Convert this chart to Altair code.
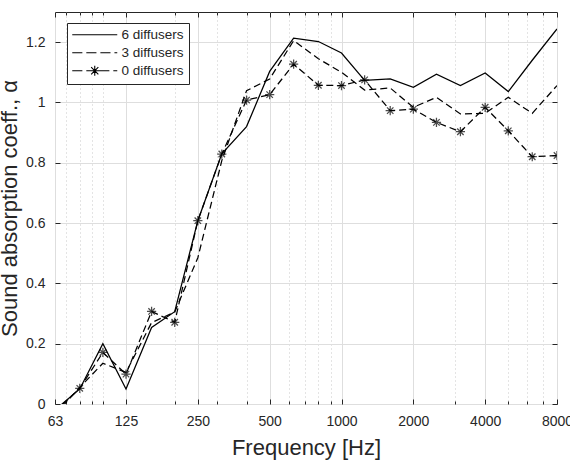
import altair as alt
import pandas as pd

freqs = [63, 80, 100, 125, 160, 200, 250, 315, 400, 500, 630, 800,
         1000, 1250, 1600, 2000, 2500, 3150, 4000, 5000, 6300, 8000]
six_diffusers = [-0.02, 0.05, 0.20, 0.05, 0.254, 0.306, 0.608, 0.83, 0.92, 1.103, 1.213, 1.202,
                 1.164, 1.073, 1.078, 1.05, 1.094, 1.056, 1.098, 1.036, 1.14, 1.244]
three_diffusers = [-0.035, 0.055, 0.135, 0.105, 0.27, 0.305, 0.485, 0.807, 1.039, 1.078, 1.205, 1.145,
                   1.10, 1.041, 1.048, 0.984, 1.017, 0.962, 0.964, 1.017, 0.964, 1.056]
zero_diffusers = [-0.025, 0.052, 0.171, 0.099, 0.307, 0.271, 0.608, 0.829, 1.008, 1.026, 1.127, 1.057,
                  1.056, 1.075, 0.973, 0.978, 0.934, 0.903, 0.984, 0.906, 0.820, 0.824]
series_names = ["6 diffusers", "3 diffusers", "0 diffusers"]

major_x = [63, 125, 250, 500, 1000, 2000, 4000, 8000]
minor_x = [70, 80, 90, 100, 200, 300, 400, 600, 700, 800, 900, 3000, 5000, 6000, 7000]
y_ticks = [0, 0.2, 0.4, 0.6, 0.8, 1.0, 1.2]

rows = []
for name, vals in zip(series_names, [six_diffusers, three_diffusers, zero_diffusers]):
    for f, v in zip(freqs, vals):
        rows.append({"freq": f, "value": v, "series": name})
df = pd.DataFrame(rows)

W, H = 502, 392
FONT = "Liberation Sans"
INK = "#262626"

xscale = alt.Scale(type="log", domain=[63, 8000], nice=False)
yscale = alt.Scale(domain=[0, 1.3], nice=False, zero=False)

star = "M0,-1V1M-1,0H1M-0.7,-0.7L0.7,0.7M-0.7,0.7L0.7,-0.7"
leg_solid = "M-4,0H4"
leg_dash = "M-4,0H-2.2M-1.5,0H0.3M1,0H2.8M3.5,0H4"
leg_star = ("M-4,0H-2.2M-1.5,0H-0.9M0.9,0H2.6M3.3,0H4"
            "M0,-0.9V0.9M-0.9,0H0.9M-0.64,-0.64L0.64,0.64M-0.64,0.64L0.64,-0.64")


def xenc(axis):
    return alt.X("freq:Q", scale=xscale, axis=axis)


def yenc(axis):
    return alt.Y("value:Q", scale=yscale, axis=axis)


tick_common = dict(labels=False, domain=False, grid=False, title=None,
                   tickColor=INK, tickWidth=1)

# solid line (6 diffusers) + labelled axes and major grid
solid = alt.Chart(df).transform_filter(alt.datum.series == "6 diffusers").mark_line(
    clip=True, color="black", strokeWidth=1.25
).encode(
    x=xenc(alt.Axis(orient="bottom", values=major_x, format="~g", title="Frequency [Hz]",
                    grid=True, gridColor="#dedede", ticks=False, tickSize=0,
                    domain=False, labelPadding=10, labelFontSize=14,
                    labelFlush=False, labelOverlap=False, labelColor=INK,
                    titleFontSize=22, titleFontWeight="normal", titleColor=INK,
                    titleY=50, titleBaseline="alphabetic")),
    y=yenc(alt.Axis(orient="left", values=y_ticks, format="~g",
                    title="Sound absorption coeff., α",
                    grid=True, gridColor="#dedede", ticks=False, tickSize=0,
                    domain=False, labelPadding=10, labelFontSize=14, labelColor=INK,
                    titleFontSize=22, titleFontWeight="normal", titleColor=INK)),
)

# dashed lines (3 and 0 diffusers) + minor dotted grid + inward ticks on left edge
dashed = alt.Chart(df).transform_filter(alt.datum.series != "6 diffusers").mark_line(
    clip=True, color="black", strokeWidth=1.25, strokeDash=[7, 4]
).encode(
    x=xenc(alt.Axis(orient="bottom", values=minor_x, labels=False, ticks=False, tickSize=0,
                    domain=False, grid=True, gridDash=[1, 3], gridColor="#c8c8c8", title=None)),
    y=yenc(alt.Axis(orient="right", offset=-W, values=y_ticks, tickSize=5, **tick_common)),
    detail="series:N",
)

# star markers + inward ticks bottom (major) and right edge
stars = alt.Chart(df).transform_filter(alt.datum.series == "0 diffusers").mark_point(
    shape=star, size=85, filled=False, color="black", strokeWidth=1.25, clip=True
).encode(
    x=xenc(alt.Axis(orient="top", offset=-H, values=major_x, tickSize=5, **tick_common)),
    y=yenc(alt.Axis(orient="left", offset=-W, values=y_ticks, tickSize=5, **tick_common)),
)

# invisible layer carrying the legend + inward major ticks on top edge
legend_layer = alt.Chart(df).mark_point(filled=False, color="black", opacity=0).encode(
    x=xenc(alt.Axis(orient="bottom", offset=-H, values=major_x, tickSize=5, **tick_common)),
    y=yenc(None),
    shape=alt.Shape("series:N",
                    scale=alt.Scale(domain=series_names, range=[leg_solid, leg_dash, leg_star]),
                    legend=alt.Legend(title=None, orient="none", legendX=12, legendY=11,
                                      symbolSize=126.6, symbolStrokeWidth=1.1,
                                      symbolStrokeColor="black", symbolOpacity=1,
                                      symbolOffset=16, labelOffset=20,
                                      labelFontSize=13.5, labelFont=FONT, labelColor=INK,
                                      rowPadding=3, padding=5, strokeColor=INK,
                                      fillColor="white")),
)

bottom_minor = alt.Chart(df).mark_point(opacity=0).encode(
    x=xenc(alt.Axis(orient="top", offset=-H, values=minor_x, tickSize=3, **tick_common)),
    y=yenc(None),
)
top_minor = alt.Chart(df).mark_point(opacity=0).encode(
    x=xenc(alt.Axis(orient="bottom", offset=-H, values=minor_x, tickSize=3, **tick_common)),
    y=yenc(None),
)

chart = alt.layer(solid, dashed, stars, legend_layer, bottom_minor, top_minor).resolve_axis(
    x="independent", y="independent"
).properties(
    width=W, height=H,
    autosize=alt.AutoSizeParams(type="none"),
    padding={"left": 55, "top": 12, "right": 13, "bottom": 56},
    background="white",
).configure(font=FONT).configure_view(stroke=INK, strokeWidth=1)

chart.save("out.html", embed_options={"renderer": "svg", "actions": False})
